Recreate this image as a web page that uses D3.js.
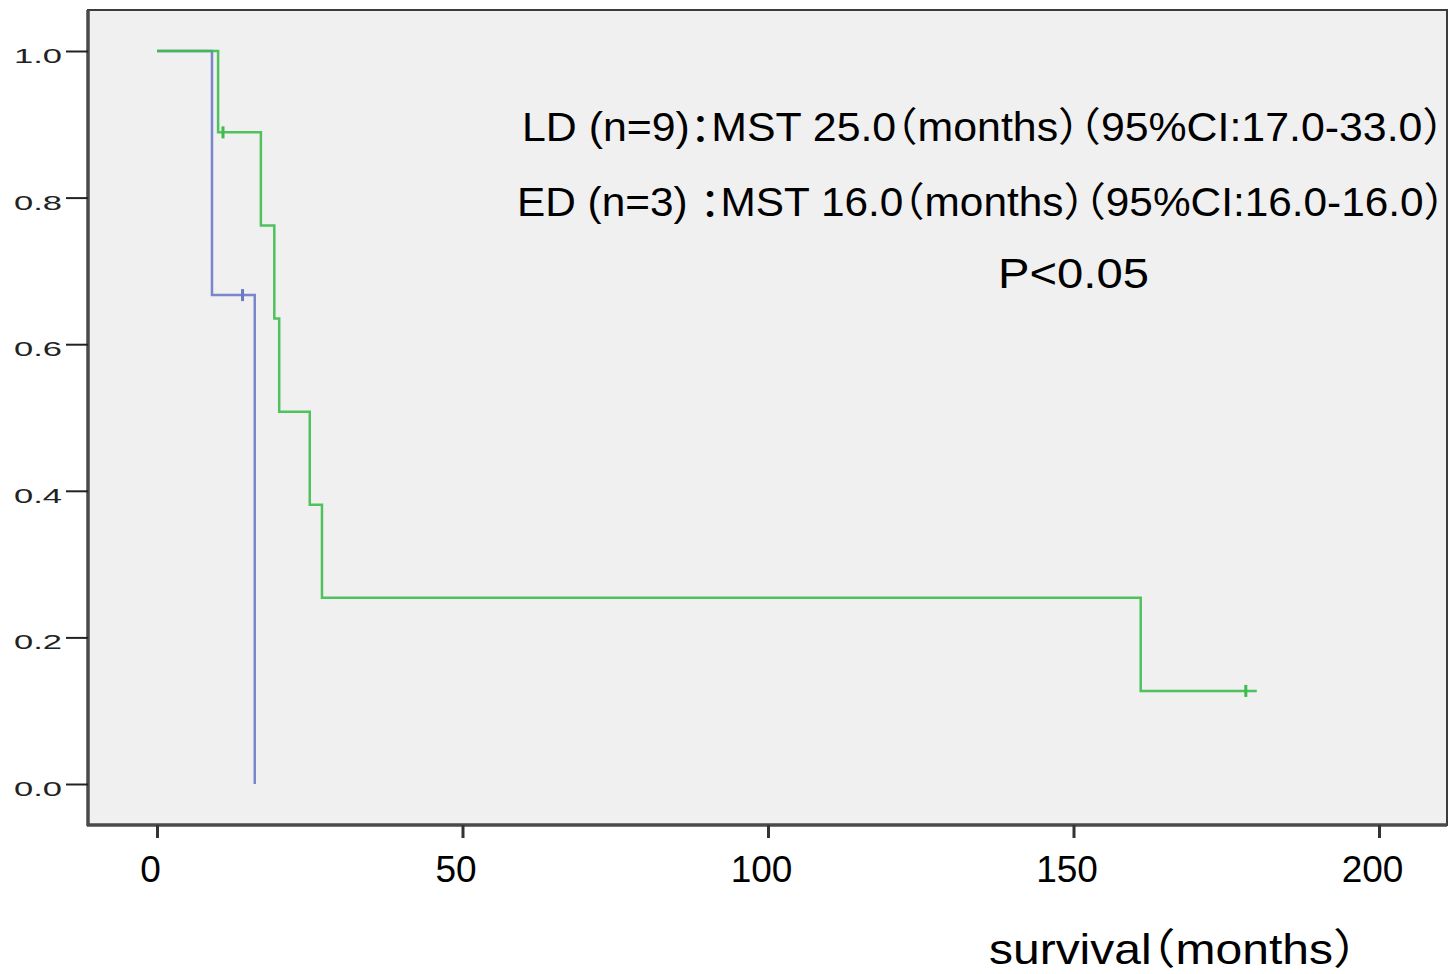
<!DOCTYPE html>
<html>
<head>
<meta charset="utf-8">
<script src="https://cdn.jsdelivr.net/npm/d3@7"></script>
<style>
  body { margin: 0; background: #fff; }
  svg { display: block; }
  .note { font-feature-settings: "halt" 1; }
</style>
</head>
<body>
<svg id="chart" width="1449" height="974"></svg>
<script>
// Kaplan-Meier steps: [months, survival]
var ldSteps = [[0, 1], [10, 0.889], [17, 0.762], [19.2, 0.635], [20, 0.508],
               [25, 0.381], [27, 0.254], [161, 0.127], [180, 0.127]];
var ldCensor = [[10.8, 0.889], [178.2, 0.127]];
var edSteps = [[0, 1], [9, 0.667], [16, 0]];
var edCensor = [[14, 0.667]];

var xTicks = [0, 50, 100, 150, 200];
var yTicks = [0, 0.2, 0.4, 0.6, 0.8, 1.0];

var notes = [
    { text: 'LD (n=9)：MST 25.0（months）（95%CI:17.0-33.0）', x: 522, y: 141, w: 922, size: 40 },
    { text: 'ED (n=3) ：MST 16.0（months）（95%CI:16.0-16.0）', x: 517, y: 216, w: 928, size: 40 },
    { text: 'P<0.05', x: 998, y: 288, w: 151, size: 43 },
    { text: 'survival（months）', x: 989, y: 964, w: 368, size: 42 }
];

var FONT = 'Liberation Sans, Arial, "Noto Sans CJK SC", sans-serif';

var svg = d3.select('#chart');
var frame = { left: 88, top: 10, right: 1447, bottom: 825 };

var x = d3.scaleLinear().domain([0, 200]).range([157, 1379]);
var y = d3.scaleLinear().domain([0, 1]).range([784, 51]);

// Plot area.
svg.append('rect')
    .attr('x', frame.left)
    .attr('y', frame.top)
    .attr('width', frame.right - frame.left)
    .attr('height', frame.bottom - frame.top)
    .attr('fill', '#f0f0f0')
    .attr('stroke', '#3c3c3c')
    .attr('stroke-width', 2);

// Y axis.
var yAxis = svg.append('g')
    .attr('transform', 'translate(' + frame.left + ',0)')
    .call(d3.axisLeft(y).tickValues(yTicks).tickSize(22).tickPadding(4)
        .tickFormat(d3.format('.1f')));
yAxis.select('.domain')
    .attr('d', 'M0,' + frame.top + 'V' + (frame.bottom + 1))
    .attr('stroke', '#4a4a4a')
    .attr('stroke-width', 3.5);
yAxis.selectAll('.tick line').attr('stroke', '#222').attr('stroke-width', 2);
yAxis.selectAll('.tick text')
    .attr('font-family', FONT)
    .attr('font-size', 21)
    .attr('fill', '#222')
    .attr('dy', '0.55em')
    .attr('x', -26)
    .attr('textLength', 48)
    .attr('lengthAdjust', 'spacingAndGlyphs');

// X axis.
var xAxis = svg.append('g')
    .attr('transform', 'translate(0,' + frame.bottom + ')')
    .call(d3.axisBottom(x).tickValues(xTicks).tickSize(13).tickFormat(d3.format('d')));
xAxis.select('.domain')
    .attr('d', 'M' + (frame.left - 1) + ',0H' + frame.right)
    .attr('stroke', '#4a4a4a')
    .attr('stroke-width', 3.5);
xAxis.selectAll('.tick line').attr('stroke', '#333').attr('stroke-width', 3);
xAxis.selectAll('.tick text')
    .attr('font-family', FONT)
    .attr('font-size', 37)
    .attr('fill', '#000')
    .attr('y', 57)
    .attr('dy', 0)
    .attr('x', -7);

// Survival curves.
var line = d3.line()
    .x(function(d) { return x(d[0]); })
    .y(function(d) { return y(d[1]); })
    .curve(d3.curveStepAfter);

function drawCurve(steps, censor, colour) {
    svg.append('path')
        .datum(steps)
        .attr('d', line)
        .attr('fill', 'none')
        .attr('stroke', colour)
        .attr('stroke-width', 2.5)
        .attr('stroke-opacity', 0.9);

    svg.selectAll(null)
        .data(censor)
        .enter().append('line')
        .attr('x1', function(d) { return x(d[0]); })
        .attr('x2', function(d) { return x(d[0]); })
        .attr('y1', function(d) { return y(d[1]) - 6; })
        .attr('y2', function(d) { return y(d[1]) + 6; })
        .attr('stroke', colour)
        .attr('stroke-width', 3);
}

drawCurve(edSteps, edCensor, '#6a7bc6');
drawCurve(ldSteps, ldCensor, '#3dbb4c');

// Annotations: one text each, squeezed to the width seen in the picture.
notes.forEach(function(d) {
    var t = svg.append('text')
        .attr('class', 'note')
        .attr('x', d.x)
        .attr('y', d.y)
        .attr('font-family', FONT)
        .attr('font-size', d.size)
        .attr('fill', '#000')
        .text(d.text);

    var box = t.node().getBBox();
    var s = d.w / box.width;
    t.attr('transform', 'translate(' + d.x + ',0) scale(' + s + ',1) translate(' + (-box.x) + ',0)');
});
</script>
</body>
</html>
